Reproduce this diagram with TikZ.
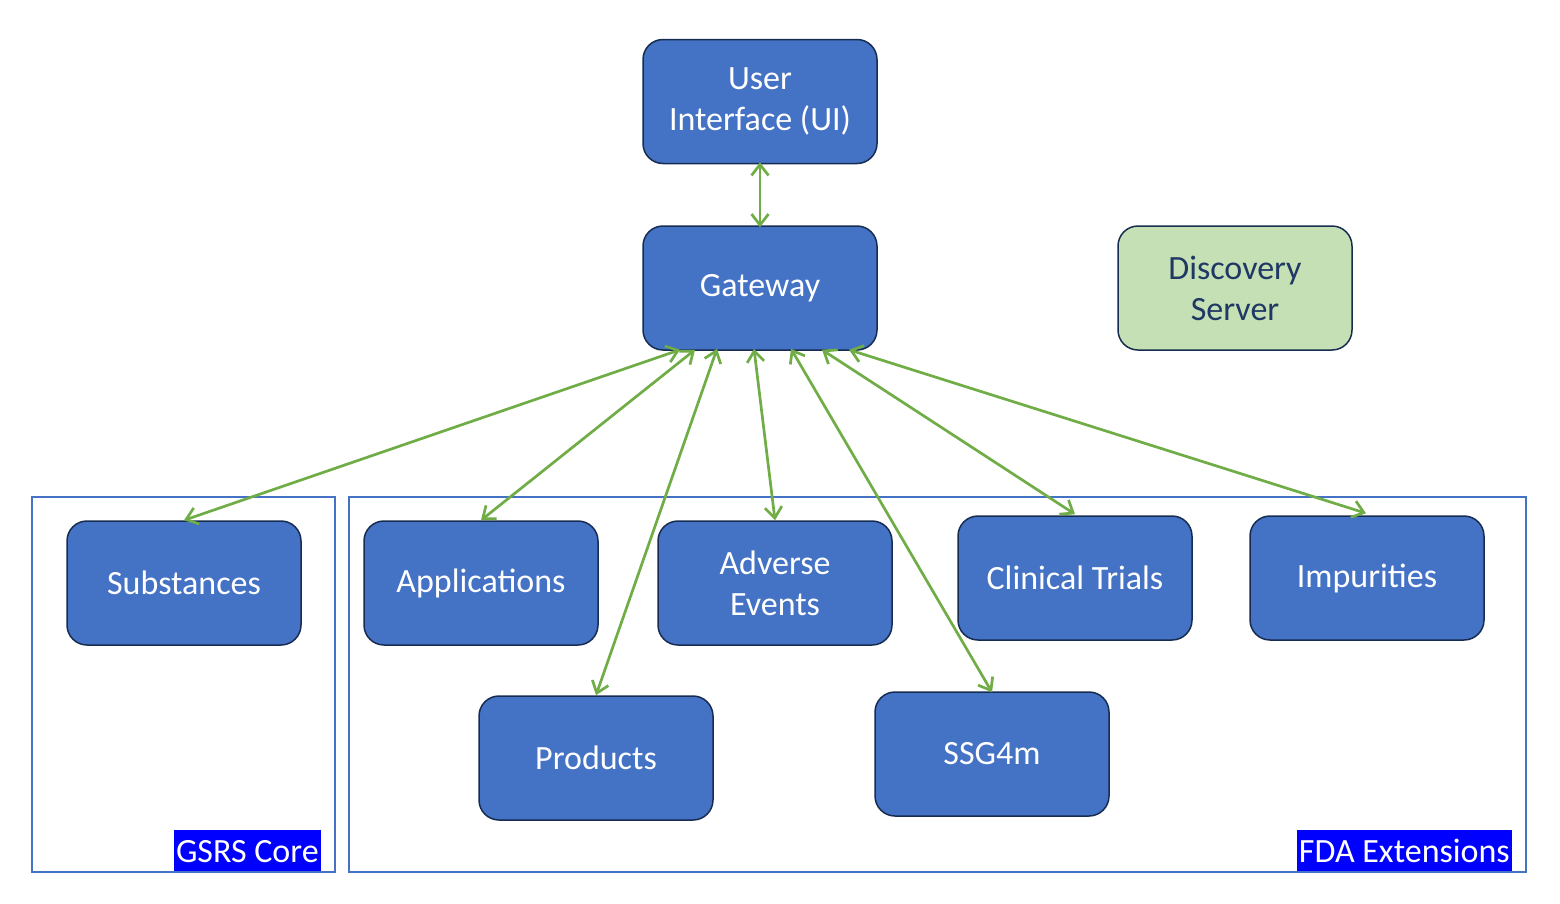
\documentclass[tikz,border=0pt]{standalone}
\usepackage{fontspec}
\setmainfont{Carlito}
\usetikzlibrary{arrows.meta}
\definecolor{boxblue}{HTML}{4472C4}
\definecolor{boxline}{HTML}{172C51}
\definecolor{arrgreen}{HTML}{70AD47}
\definecolor{discfill}{HTML}{C5E0B4}
\definecolor{disctext}{HTML}{1F3864}
\definecolor{labblue}{HTML}{0000FF}
\tikzset{
  svc/.style={draw=boxline, line width=1.5pt, fill=boxblue, rounded corners=20pt,
    minimum width=234pt, minimum height=124pt, text=white, align=center,
    font=\fontsize{34pt}{41pt}\selectfont, inner sep=0pt},
  disc/.style={svc, fill=discfill, text=disctext},
  grp/.style={draw=boxblue, line width=1.5pt},
  grplabel/.style={fill=labblue, text=white, font=\fontsize{34pt}{41pt}\selectfont,
    inner xsep=2pt, inner ysep=0pt, text height=33pt, text depth=8pt, anchor=south east},
  link/.style={draw=arrgreen, line width=2.7pt,
    {Straight Barb[length=11pt,width=17pt,line width=2.7pt]}-{Straight Barb[length=11pt,width=17pt,line width=2.7pt]}}
}
\begin{document}
\begin{tikzpicture}[x=1pt,y=-1pt]
\useasboundingbox (0,0) rectangle (1560,903);
% groups
\draw[grp] (32,497) rectangle (335,872);
\draw[grp] (349,497) rectangle (1526,872);
\node[grplabel] (lcore) at (321,871) {GSRS Core};
\node[grplabel] (lext) at (1512,871) {FDA Extensions};
% nodes
\node[svc] (ui) at (760,101.5) {User\\Interface (UI)};
\node[svc] (gw) at (760,288) {Gateway};
\node[disc] (ds) at (1235,288) {Discovery\\Server};
\node[svc] (sub) at (184,583) {Substances};
\node[svc] (app) at (481,583) {Applications};
\node[svc] (ae) at (775,583) {Adverse\\Events};
\node[svc] (ct) at (1075,578) {Clinical Trials};
\node[svc] (imp) at (1367,578) {Impurities};
\node[svc] (prod) at (596,758) {Products};
\node[svc] (ssg) at (992,754) {SSG4m};
% links
\draw[link] ([yshift=2pt]ui.south) -- ([yshift=-2pt]gw.north);
\draw[link] ([xshift=-80pt,yshift=1pt]gw.south) -- (sub.north);
\draw[link] ([xshift=-65pt,yshift=1pt]gw.south) -- (app.north);
\draw[link] ([xshift=-43pt,yshift=2pt]gw.south) -- (prod.north);
\draw[link] ([xshift=-6pt,yshift=2pt]gw.south) -- (ae.north);
\draw[link] ([xshift=31pt,yshift=2pt]gw.south) -- ([yshift=-1pt]ssg.north);
\draw[link] ([xshift=62pt,yshift=1pt]gw.south) -- ([yshift=1pt]ct.north);
\draw[link] ([xshift=89pt,yshift=1pt]gw.south) -- ([xshift=-1pt,yshift=2pt]imp.north);
\end{tikzpicture}
\end{document}
